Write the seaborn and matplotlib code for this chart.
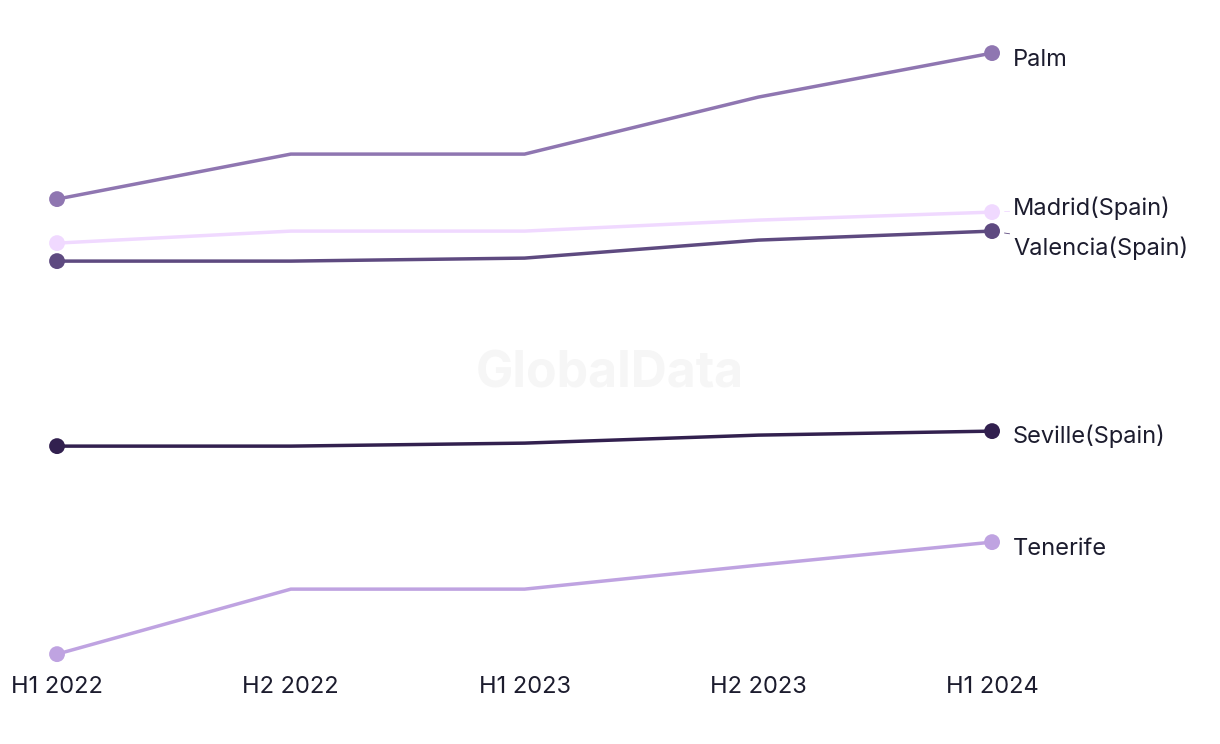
import pandas as pd
import matplotlib
import matplotlib.pyplot as plt
import seaborn as sns

matplotlib.use("Agg")

# ── Data (relative index) ───────────────────────────────────────────────
periods = ["H1 2022", "H2 2022", "H1 2023", "H2 2023", "H1 2024"]
cities = ["Palm", "Madrid(Spain)", "Valencia(Spain)", "Seville(Spain)", "Tenerife"]
palm = [501, 546, 546, 603, 647]
madrid = [457, 469, 469, 480, 488]
valencia = [439, 439, 442, 460, 469]
seville = [254, 254, 257, 265, 269]
tenerife = [46, 111, 111, 135, 158]

colors = ["#8f76b1", "#f0d9ff", "#5e4a80", "#32204f", "#bfa3e1"]
# label offsets (points) to keep the end labels apart
label_offsets = [(15, -5), (15, 3), (15, -12), (15, -4), (15, -5)]
leader = [False, True, True, False, False]

series = [palm, madrid, valencia, seville, tenerife]
df = pd.DataFrame(
    [(c, i, v) for c, vals in zip(cities, series) for i, v in enumerate(vals)],
    columns=["city", "pos", "value"],
)

sns.set_style("white")
plt.rcParams["font.family"] = ["Inter", "DejaVu Sans"]

fig = plt.figure(figsize=(12.2, 7.44), dpi=100)
ax = fig.add_axes([0, 0.106, 1, 0.867])

palette = dict(zip(cities, colors))
sns.lineplot(data=df, x="pos", y="value", hue="city", palette=palette,
             linewidth=2.5, legend=False, ax=ax)

ends = df[df["pos"].isin([0, len(periods) - 1])]
sns.scatterplot(data=ends, x="pos", y="value", hue="city", palette=palette,
                s=130, linewidth=0, legend=False, ax=ax, zorder=3)

last = len(periods) - 1
for city, vals, off, lead in zip(cities, series, label_offsets, leader):
    ax.annotate(
        city, xy=(last, vals[-1]), xytext=off, textcoords="offset points",
        ha="left", va="center", fontsize=17, color="#1c1c2e",
        arrowprops=dict(arrowstyle="-", lw=0.6, color=palette[city],
                        shrinkA=0, shrinkB=9) if lead else None,
    )

ax.set_xlim(-0.244, 4.975)
ax.set_ylim(35, 680)
ax.set_xticks(range(len(periods)))
ax.set_xticklabels(periods, fontsize=17, color="#1c1c2e")
ax.tick_params(axis="x", length=0, pad=8)
ax.set_yticks([])
ax.set_xlabel("")
ax.set_ylabel("")
sns.despine(ax=ax, left=True, bottom=True)

fig.text(0.5, 0.497, "GlobalData", ha="center", va="center", fontsize=36,
         fontweight="bold", color="#f6f6f6", zorder=0)

fig.savefig("out.png", dpi=100)
plt.close(fig)
